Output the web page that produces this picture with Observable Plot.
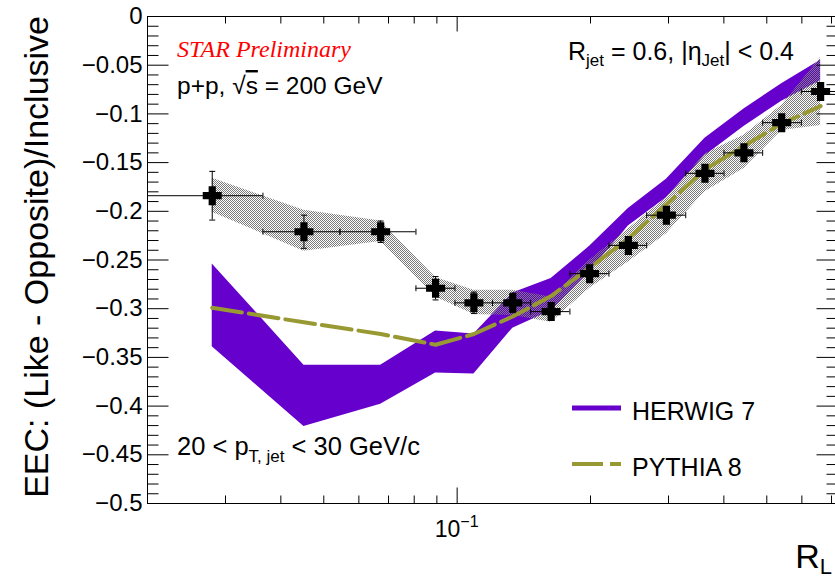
<!DOCTYPE html>
<html><head><meta charset="utf-8">
<script src="https://cdn.jsdelivr.net/npm/d3@7"></script>
<script src="https://cdn.jsdelivr.net/npm/@observablehq/plot@0.6"></script>
<style>
html,body{margin:0;padding:0;background:#fff;}
#chart svg{display:block;}
</style>
</head><body>
<svg width="0" height="0" style="position:absolute">
<defs>
<pattern id="hatch" width="2" height="2" patternUnits="userSpaceOnUse">
<rect x="0" y="0" width="1" height="1" fill="#7a7a7a"/>
<rect x="1" y="1" width="1" height="1" fill="#7a7a7a"/>
</pattern>
</defs></svg>
<div id="chart"></div>
<script>
// ---- data ----
const rL    = [0.0280, 0.0451, 0.0672, 0.0894, 0.1091, 0.1335, 0.1630, 0.1991, 0.2435, 0.2967, 0.3626, 0.4440, 0.5402, 0.6614];
const rLlo  = [0.0199, 0.03644, 0.05437, 0.08072, 0.09886, 0.1202, 0.1465, 0.1797, 0.2201, 0.2678, 0.3281, 0.4003, 0.4894, 0.5984];
const rLhi  = [0.03644, 0.05437, 0.08072, 0.09886, 0.1202, 0.1465, 0.1797, 0.2201, 0.2678, 0.3281, 0.4003, 0.4894, 0.5984, 0.7300];
const eec   = [-0.184, -0.221, -0.221, -0.279, -0.294, -0.294, -0.303, -0.264, -0.235, -0.204, -0.161, -0.140, -0.109, -0.077];
const statErr = [0.025, 0.017, 0.011, 0.012, 0.011, 0.010, 0.009, 0.006, 0.006, 0.006, 0.005, 0.005, 0.005, 0.005];
const sysHi = [-0.166, -0.199, -0.210, -0.268, -0.281, -0.281, -0.288, -0.250, -0.218, -0.186, -0.141, -0.122, -0.091, -0.042];
const sysLo = [-0.201, -0.241, -0.231, -0.288, -0.306, -0.307, -0.314, -0.279, -0.252, -0.223, -0.180, -0.156, -0.117, -0.112];
const herwigHi = [-0.254, -0.358, -0.358, -0.323, -0.326, -0.284, -0.269, -0.236, -0.197, -0.167, -0.125, -0.095, -0.069, -0.045];
const herwigLo = [-0.339, -0.421, -0.398, -0.366, -0.367, -0.320, -0.302, -0.262, -0.215, -0.186, -0.143, -0.113, -0.087, -0.066];
const pythia   = [-0.299, -0.314, -0.326, -0.337, -0.326, -0.308, -0.287, -0.258, -0.228, -0.193, -0.157, -0.133, -0.110, -0.092];

const yMajorTicks = [0, -0.05, -0.1, -0.15, -0.2, -0.25, -0.3, -0.35, -0.4, -0.45, -0.5];
const yTickLabels = ["0", "\u22120.05", "\u22120.1", "\u22120.15", "\u22120.2", "\u22120.25", "\u22120.3", "\u22120.35", "\u22120.4", "\u22120.45", "\u22120.5"];
const yMinorTicks = [-0.01,-0.02,-0.03,-0.04,-0.06,-0.07,-0.08,-0.09,-0.11,-0.12,-0.13,-0.14,-0.16,-0.17,-0.18,-0.19,
  -0.21,-0.22,-0.23,-0.24,-0.26,-0.27,-0.28,-0.29,-0.31,-0.32,-0.33,-0.34,-0.36,-0.37,-0.38,-0.39,
  -0.41,-0.42,-0.43,-0.44,-0.46,-0.47,-0.48,-0.49];
const xMajorTicks = [0.1];
const xMinorTicks = [0.03, 0.04, 0.05, 0.06, 0.07, 0.08, 0.09, 0.2, 0.3, 0.4, 0.5, 0.6, 0.7];

const pts = rL.map((x, i) => ({
  x, xlo: rLlo[i], xhi: rLhi[i], y: eec[i],
  ylo: eec[i] - statErr[i], yhi: eec[i] + statErr[i],
  sHi: sysHi[i], sLo: sysLo[i], hHi: herwigHi[i], hLo: herwigLo[i], py: pythia[i]
}));

// ---- symbols ----
const crossSym = {draw(c) {
  const a = 9.5, b = 3.6;
  c.moveTo(-a,-b); c.lineTo(-b,-b); c.lineTo(-b,-a); c.lineTo(b,-a); c.lineTo(b,-b); c.lineTo(a,-b);
  c.lineTo(a,b); c.lineTo(b,b); c.lineTo(b,a); c.lineTo(-b,a); c.lineTo(-b,b); c.lineTo(-a,b); c.closePath();
}};
const hSeg = (x0, x1) => ({draw(c) { c.moveTo(x0, 0); c.lineTo(x1, 0); }});
const vSeg = (y0, y1) => ({draw(c) { c.moveTo(0, y0); c.lineTo(0, y1); }});
const tickOpts = {stroke: "black", fill: "none", strokeWidth: 1};

const purple = "#6600cc";
const olive = "#999933";

const plot = Plot.plot({
  width: 835, height: 578,
  marginLeft: 147, marginRight: 0, marginTop: 16, marginBottom: 75,
  style: {fontFamily: "'Liberation Sans', Arial, sans-serif", fontSize: "24px", background: "white", overflow: "visible"},
  x: {type: "log", domain: [0.02, 0.7146], axis: null},
  y: {domain: [-0.5, 0], axis: null},
  marks: [
    Plot.areaY(pts, {x: "x", y1: "hLo", y2: "hHi", fill: purple}),
    Plot.areaY(pts, {x: "x", y1: "sLo", y2: "sHi", fill: "url(#hatch)"}),
    Plot.line(pts, {x: "x", y: "py", stroke: olive, strokeWidth: 4, strokeDasharray: "30,7"}),
    // error bars
    Plot.ruleY(pts, {y: "y", x1: "xlo", x2: "xhi", stroke: "black", strokeWidth: 1, clip: true}),
    Plot.dot(pts, {x: "xlo", y: "y", symbol: vSeg(-3, 3), ...tickOpts, clip: true}),
    Plot.dot(pts, {x: "xhi", y: "y", symbol: vSeg(-3, 3), ...tickOpts, clip: true}),
    Plot.ruleX(pts, {x: "x", y1: "ylo", y2: "yhi", stroke: "black", strokeWidth: 1}),
    Plot.dot(pts, {x: "x", y: "ylo", symbol: hSeg(-3, 3), ...tickOpts}),
    Plot.dot(pts, {x: "x", y: "yhi", symbol: hSeg(-3, 3), ...tickOpts}),
    Plot.dot(pts, {x: "x", y: "y", symbol: crossSym, fill: "black", stroke: "none"}),
    // frame
    Plot.ruleX([0.02], {stroke: "black"}),
    Plot.ruleY([-0.5], {stroke: "black"}),
    Plot.ruleY([0], {stroke: "black"}),
    // y ticks, left & right
    Plot.dot(yMajorTicks, {y: d => d, frameAnchor: "left", symbol: hSeg(0, 21), ...tickOpts}),
    Plot.dot(yMinorTicks, {y: d => d, frameAnchor: "left", symbol: hSeg(0, 11), ...tickOpts}),
    Plot.dot(yMajorTicks, {y: d => d, frameAnchor: "right", symbol: hSeg(-19, 0), ...tickOpts}),
    Plot.dot(yMinorTicks, {y: d => d, frameAnchor: "right", symbol: hSeg(-9, 0), ...tickOpts}),
    // x ticks, bottom & top
    Plot.dot(xMajorTicks, {x: d => d, frameAnchor: "bottom", symbol: vSeg(-16, 0), ...tickOpts}),
    Plot.dot(xMinorTicks, {x: d => d, frameAnchor: "bottom", symbol: vSeg(-8, 0), ...tickOpts}),
    Plot.dot(xMajorTicks, {x: d => d, frameAnchor: "top", symbol: vSeg(0, 15), ...tickOpts}),
    Plot.dot(xMinorTicks, {x: d => d, frameAnchor: "top", symbol: vSeg(0, 7), ...tickOpts}),
    // y tick labels
    Plot.text(yMajorTicks, {y: d => d, text: (d, i) => yTickLabels[i], frameAnchor: "left", dx: -5, textAnchor: "end", fontSize: 24, fill: "black"})
  ]
});
document.getElementById("chart").appendChild(plot);

// ---- annotations (rich text) ----
const svg = d3.select(plot);
const xs = plot.scale("x");
const g = svg.append("g").attr("font-family", "'Liberation Sans', Arial, sans-serif")
  .attr("fill", "black").attr("text-anchor", "start");

function rich(x, y, size, parts, attrs = {}) {
  const t = g.append("text").attr("x", x).attr("y", y).attr("font-size", size);
  for (const [k, v] of Object.entries(attrs)) t.attr(k, v);
  for (const p of parts) {
    const s = t.append("tspan").text(p.t);
    if (p.size) s.attr("font-size", p.size);
    if (p.dy) s.attr("dy", p.dy);
    if (p.style) s.attr("style", p.style);
  }
  return t;
}

// x tick label 10^-1
rich(xs.apply(0.1), 537, 23, [{t: "10"}, {t: "\u22121", size: 16, dy: -10}], {"text-anchor": "middle"});
// axis titles
g.append("text").attr("transform", "translate(48,16) rotate(-90)").attr("text-anchor", "end")
  .attr("font-size", 34).text("EEC: (Like - Opposite)/Inclusive");
rich(832, 568, 34, [{t: "R"}, {t: "L", size: 22, dy: 6}], {"text-anchor": "end"});

// labels
g.append("text").attr("x", 177).attr("y", 57).attr("font-family", "'Liberation Serif', 'Times New Roman', serif")
  .attr("font-style", "italic").attr("font-size", 24).attr("fill", "#ff0000").text("STAR Preliminary");
rich(177, 94, 24.5, [{t: "p+p, \u221A"}, {t: "s", style: "text-decoration: overline"}, {t: " = 200 GeV"}]);
rich(568, 60, 25, [{t: "R"}, {t: "jet", size: 17, dy: 6}, {t: " = 0.6, |\u03B7", dy: -6}, {t: "Jet", size: 17, dy: 6}, {t: "| < 0.4", dy: -6}]);
rich(177, 455, 25.5, [{t: "20 < p"}, {t: "T, jet", size: 17, dy: 7}, {t: " < 30 GeV/c", dy: -7}]);

// legend
g.append("line").attr("x1", 572).attr("x2", 621).attr("y1", 408).attr("y2", 408)
  .attr("stroke", purple).attr("stroke-width", 5);
g.append("line").attr("x1", 572).attr("x2", 621).attr("y1", 464).attr("y2", 464)
  .attr("stroke", olive).attr("stroke-width", 4).attr("stroke-dasharray", "31,7");
rich(632, 420, 25, [{t: "HERWIG 7"}]);
rich(632, 476, 25, [{t: "PYTHIA 8"}]);
</script>
</body></html>
